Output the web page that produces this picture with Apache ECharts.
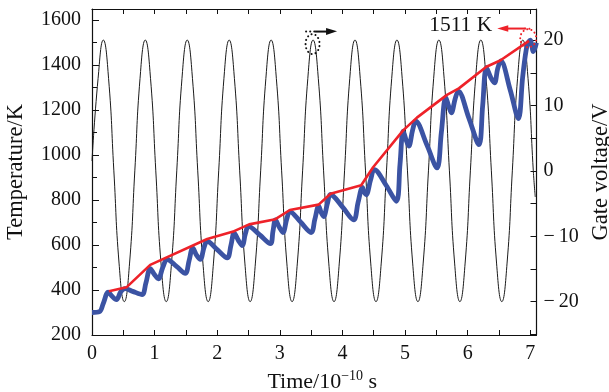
<!DOCTYPE html>
<html><head><meta charset="utf-8">
<script src="https://cdn.jsdelivr.net/npm/echarts@6/dist/echarts.min.js"></script>
<style>html,body{margin:0;padding:0;background:#fff}#c{width:609px;height:392px}</style>
</head><body><div id="c"></div>
<script>
// ---- data ----
const gateTime = [0,
  0.097, 0.181, 0.265, 0.349, 0.432, 0.516, 0.600, 0.684,
  0.767, 0.851, 0.935, 1.019, 1.102, 1.186, 1.270, 1.354,
  1.437, 1.521, 1.605, 1.689, 1.772, 1.856, 1.940, 2.024,
  2.107, 2.191, 2.275, 2.359, 2.442, 2.526, 2.610, 2.694,
  2.777, 2.861, 2.945, 3.029, 3.112, 3.196, 3.280, 3.364,
  3.447, 3.531, 3.615, 3.699, 3.782, 3.866, 3.950, 4.034,
  4.117, 4.201, 4.285, 4.369, 4.452, 4.536, 4.620, 4.704,
  4.787, 4.871, 4.955, 5.039, 5.122, 5.206, 5.290, 5.374,
  5.457, 5.541, 5.625, 5.709, 5.792, 5.876, 5.960, 6.044,
  6.127, 6.211, 6.295, 6.379, 6.462, 6.546, 6.630, 6.714,
  6.797, 6.881, 6.965, 7.049, 7.080];
const gateVoltage = [1.5,
  14.1, 20, 14.1, 0, -14.1, -20, -14.1, 0,
  14.1, 20, 14.1, 0, -14.1, -20, -14.1, 0,
  14.1, 20, 14.1, 0, -14.1, -20, -14.1, 0,
  14.1, 20, 14.1, 0, -14.1, -20, -14.1, 0,
  14.1, 20, 14.1, 0, -14.1, -20, -14.1, 0,
  14.1, 20, 14.1, 0, -14.1, -20, -14.1, 0,
  14.1, 20, 14.1, 0, -14.1, -20, -14.1, 0,
  14.1, 20, 14.1, 0, -14.1, -20, -14.1, 0,
  14.1, 20, 14.1, 0, -14.1, -20, -14.1, 0,
  14.1, 20, 14.1, 0, -14.1, -20, -14.1, 0,
  14.1, 20, 14.1, 0, -4];

const tempTime = [0.00, 0.12, 0.18, 0.26, 0.32, 0.39, 0.46, 0.53, 0.65, 0.80,
  0.86, 0.93, 1.00, 1.06, 1.13, 1.20, 1.35, 1.49, 1.55, 1.61,
  1.67, 1.73, 1.79, 1.84, 2.00, 2.16, 2.22, 2.27, 2.34, 2.40,
  2.45, 2.50, 2.68, 2.85, 2.89, 2.93, 2.99, 3.05, 3.11, 3.16,
  3.33, 3.50, 3.56, 3.62, 3.66, 3.70, 3.76, 3.81, 4.00, 4.18,
  4.25, 4.32, 4.35, 4.38, 4.45, 4.51, 4.70, 4.86, 4.92, 4.97,
  5.02, 5.06, 5.12, 5.17, 5.35, 5.51, 5.58, 5.65, 5.70, 5.74,
  5.80, 5.85, 6.02, 6.18, 6.24, 6.30, 6.37, 6.43, 6.48, 6.53,
  6.68, 6.81, 6.88, 6.95, 7.00, 7.05, 7.10];
const tempValue = [300, 304, 340, 391, 372, 357, 392, 406, 394, 380,
  430, 495, 468, 450, 500, 536, 505, 474, 530, 587,
  555, 536, 590, 617, 580, 543, 600, 654, 620, 598,
  650, 683, 645, 606, 660, 712, 680, 656, 715, 749,
  703, 656, 715, 774, 745, 727, 785, 825, 770, 712,
  790, 857, 835, 824, 890, 936, 865, 795, 960, 1107,
  1065, 1040, 1110, 1151, 1045, 943, 1100, 1258, 1215, 1188,
  1250, 1285, 1165, 1047, 1220, 1389, 1345, 1322, 1385, 1419,
  1290, 1163, 1350, 1490, 1511, 1460, 1500];

const envTime = [0.27, 0.55, 0.93, 1.84, 2.27, 2.51, 2.93, 3.16, 3.62, 3.81,
  4.30, 4.49, 4.97, 5.19, 5.67, 5.86, 6.30, 6.52, 6.98];
const envValue = [395, 412, 512, 627, 662, 692, 715, 756, 780, 828,
  866, 946, 1110, 1167, 1268, 1297, 1393, 1421, 1508];

const timeTickLabels = [0, 1, 2, 3, 4, 5, 6, 7];
const tempTickLabels = [200, 400, 600, 800, 1000, 1200, 1400, 1600];
const voltTickLabels = [-20, -10, 0, 10, 20];
const peakLabel = '1511 K';
const peakPoint = [7.0, 1511];
const markedGatePeak = [3.531, 20];

// ---- chart ----
const FONT = 'Liberation Serif';
const zip = (a, b) => a.map((v, i) => [v, b[i]]);
const lineCol = '#111';

const chart = echarts.init(document.getElementById('c'));
const option = {
  animation: false,
  grid: { left: 92, right: 72.5, top: 9, bottom: 57, containLabel: false, outerBoundsMode: 'none' },
  xAxis: [{
    type: 'value', position: 'bottom', min: 0, max: 7.1, interval: 1,
    axisLine: { show: true, onZero: false, lineStyle: { color: lineCol, width: 1.2 } },
    axisTick: { show: true, inside: true, length: 5, lineStyle: { color: lineCol, width: 1 } },
    minorTick: { show: true, splitNumber: 2, length: 5, lineStyle: { color: lineCol, width: 1 } },
    splitLine: { show: false },
    axisLabel: { margin: 9, fontFamily: FONT, fontSize: 20, color: '#111',
      formatter: v => timeTickLabels.includes(v) ? String(v) : '' },
    name: '{a|Time/10}{s|\u221210}{a| s}', nameLocation: 'middle', nameGap: 34,
    nameTextStyle: { padding: [0, 0, 0, 16], rich: {
      a: { fontFamily: FONT, fontSize: 22, color: '#111', lineHeight: 26 },
      s: { fontFamily: FONT, fontSize: 14, color: '#111', lineHeight: 13, verticalAlign: 'top' } } }
  }, {
    type: 'value', position: 'top', min: 0, max: 7.1, interval: 1,
    axisLine: { show: true, onZero: false, lineStyle: { color: lineCol, width: 1.2 } },
    axisTick: { show: true, inside: true, length: 5, lineStyle: { color: lineCol, width: 1 } },
    minorTick: { show: true, splitNumber: 2, length: 5, lineStyle: { color: lineCol, width: 1 } },
    splitLine: { show: false }, axisLabel: { show: false }
  }],
  yAxis: [{
    type: 'value', position: 'left', min: 200, max: 1650, interval: 200,
    axisLine: { show: true, onZero: false, lineStyle: { color: lineCol, width: 1.2 } },
    axisTick: { show: true, inside: true, length: 7, lineStyle: { color: lineCol, width: 1 } },
    minorTick: { show: true, splitNumber: 2, length: 5, lineStyle: { color: lineCol, width: 1 } },
    splitLine: { show: false },
    axisLabel: { margin: 11, fontFamily: FONT, fontSize: 20, color: '#111',
      formatter: v => tempTickLabels.includes(v) ? String(v) : '' },
    name: 'Temperature/K', nameLocation: 'middle', nameGap: 64,
    nameTextStyle: { fontFamily: FONT, fontSize: 22.5, color: '#111' }
  }, {
    type: 'value', position: 'right', min: -25.1, max: 24.75, splitNumber: 10,
    axisLine: { show: true, onZero: false, lineStyle: { color: lineCol, width: 1.2 } },
    axisTick: { show: true, inside: true, length: 6, lineStyle: { color: lineCol, width: 1 } },
    splitLine: { show: false },
    axisLabel: { margin: 7, fontFamily: FONT, fontSize: 20, color: '#111', showMinLabel: false, showMaxLabel: false,
      formatter: v => voltTickLabels.includes(v) ? (v < 0 ? '\u2212\u2009' + Math.abs(v) : String(v)) : '' },
    name: 'Gate voltage/V', nameLocation: 'middle', nameGap: 53,
    nameTextStyle: { fontFamily: FONT, fontSize: 22.5, color: '#111' }
  }],
  series: [{
    name: 'gate', type: 'line', xAxisIndex: 0, yAxisIndex: 1, data: zip(gateTime, gateVoltage),
    smooth: 0.5, showSymbol: false, lineStyle: { color: '#1a1a1a', width: 1 }, z: 2
  }, {
    name: 'temp', type: 'line', xAxisIndex: 0, yAxisIndex: 0, data: zip(tempTime, tempValue),
    smooth: 0.35, showSymbol: false, lineStyle: { color: '#3b53a3', width: 4.8 }, z: 3
  }, {
    name: 'env', type: 'line', xAxisIndex: 0, yAxisIndex: 0, data: zip(envTime, envValue),
    showSymbol: false, lineStyle: { color: '#ee2229', width: 2.6 }, z: 4
  }]
};
chart.setOption(option);

const pk = chart.convertToPixel({ xAxisIndex: 0, yAxisIndex: 0 }, peakPoint);
const gp = chart.convertToPixel({ xAxisIndex: 0, yAxisIndex: 1 }, markedGatePeak);
const red = '#ee2229';
const dots = { lineDash: [0.1, 4], lineCap: 'round' };
chart.setOption({ graphic: [
  { type: 'ellipse', shape: { cx: pk[0] - 2, cy: pk[1] - 2, rx: 8, ry: 9 },
    style: Object.assign({ fill: 'none', stroke: red, lineWidth: 2 }, dots), z: 10 },
  { type: 'line', shape: { x1: pk[0] - 5, y1: pk[1] - 11.7, x2: pk[0] - 23, y2: pk[1] - 11.7 },
    style: { stroke: red, lineWidth: 2 }, z: 10 },
  { type: 'line', shape: { x1: pk[0] - 5, y1: pk[1] - 11.7, x2: pk[0] + 1, y2: pk[1] - 11.5 },
    style: Object.assign({ stroke: red, lineWidth: 2 }, dots), z: 10 },
  { type: 'polygon', shape: { points: [[pk[0] - 33, pk[1] - 11.7], [pk[0] - 22, pk[1] - 15], [pk[0] - 22, pk[1] - 8.4]] },
    style: { fill: red }, z: 10 },
  { type: 'text', x: pk[0] - 38, y: pk[1] - 15,
    style: { text: peakLabel, fontFamily: FONT, fontSize: 21.5, fill: '#111', align: 'right', verticalAlign: 'middle' }, z: 10 },
  { type: 'ellipse', shape: { cx: gp[0] - 0.5, cy: gp[1] + 4, rx: 7, ry: 10 },
    style: Object.assign({ fill: 'none', stroke: '#111', lineWidth: 2 }, dots), z: 10 },
  { type: 'line', shape: { x1: gp[0] - 7, y1: gp[1] - 8.5, x2: gp[0] + 2, y2: gp[1] - 8.5 },
    style: Object.assign({ stroke: '#111', lineWidth: 2 }, dots), z: 10 },
  { type: 'line', shape: { x1: gp[0] + 2, y1: gp[1] - 8.5, x2: gp[0] + 15, y2: gp[1] - 8.5 },
    style: { stroke: '#111', lineWidth: 2 }, z: 10 },
  { type: 'polygon', shape: { points: [[gp[0] + 24, gp[1] - 8.7], [gp[0] + 13, gp[1] - 12], [gp[0] + 13, gp[1] - 5]] },
    style: { fill: '#111' }, z: 10 }
] });
</script>
</body></html>
